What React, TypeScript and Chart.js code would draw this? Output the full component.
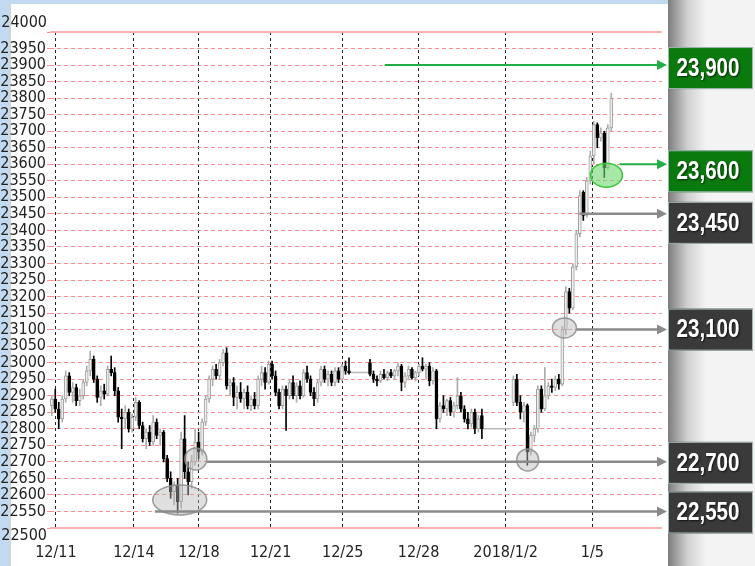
import { useEffect, useRef } from 'react';
import { Chart, registerables } from 'chart.js';
Chart.register(...registerables);

// ---- data (candles, one per slot) ----
const opens = [
  22870, 22890, 22860, 22830, 22890, 22960, 22910, 22925, 22885, 22900,
  22940, 22975, 23010, 22950, 22895, 22915, 22905, 22980, 22970, 22915,
  22835, 22830, 22850, 22800, 22835, 22880, 22810, 22770, 22790, 22760,
  22820, 22780, 22790, 22710, 22650, 22610, 22630, 22580, 22770, 22670,
  22640, 22700, 22760, 22730, 22820, 22890, 22950, 22980, 22960, 23000,
  23030, 22930, 22940, 22895, 22910, 22890, 22910, 22870, 22890, 22870,
  22950, 22970, 22940, 22995, 22960, 22910, 22870, 22920, 22900, 22940,
  22900, 22930, 22900, 22970, 22950, 22910, 22890, 22940, 22980, 22950,
  22965, 22940, 22975, 22950, 22990, 22975, 22970, 22970, 22970, 22970,
  22970, 23000, 22965, 22950, 22945, 22965, 22955, 22970, 22960, 22975,
  22990, 22940, 22960, 22980, 22955, 22970, 22990, 22980, 22990, 22945,
  22975, 22830, 22870, 22860, 22885, 22850, 22870, 22900, 22860, 22830,
  22815, 22850, 22800, 22840, 22800, 22800, 22800, 22800, 22800, 22800,
  22800, 22800, 22880, 22950, 22880, 22850, 22870, 22730, 22780, 22800,
  22920, 22860, 22900, 22930, 22925, 22950, 22935, 23100, 23215, 23165,
  23290, 23390, 23515, 23445, 23550, 23625, 23720, 23680, 23695, 23590,
  23710,
];
const highs = [
  22900, 22920, 22880, 22900, 22975, 22970, 22940, 22935, 22920, 22950,
  22990, 23035, 23020, 22960, 22930, 22935, 22990, 23020, 22985, 22925,
  22860, 22870, 22860, 22845, 22895, 22885, 22820, 22800, 22810, 22840,
  22830, 22800, 22795, 22720, 22670, 22640, 22650, 22790, 22840, 22700,
  22720, 22800, 22790, 22830, 22900, 22960, 22990, 22995, 23010, 23040,
  23045, 22950, 22955, 22930, 22940, 22920, 22930, 22900, 22910, 22960,
  22990, 22985, 23005, 23005, 22975, 22920, 22930, 22930, 22950, 22960,
  22940, 22945, 22980, 22990, 22960, 22925, 22950, 22990, 22990, 22975,
  22975, 22985, 22985, 22995, 23005, 23015, 22970, 22970, 22970, 22970,
  22970, 23010, 22975, 22960, 22975, 22980, 22975, 22980, 22980, 23000,
  22995, 22970, 22990, 22985, 22975, 22995, 23015, 22995, 23000, 22985,
  22980, 22880, 22900, 22890, 22895, 22880, 22955, 22910, 22870, 22850,
  22860, 22860, 22840, 22860, 22800, 22800, 22800, 22800, 22800, 22800,
  22800, 22800, 22960, 22965, 22900, 22880, 22875, 22790, 22810, 22930,
  22930, 22985, 22940, 22950, 22960, 22965, 23110, 23230, 23225, 23300,
  23400, 23520, 23520, 23560, 23640, 23730, 23725, 23710, 23700, 23720,
  23815,
];
const lows = [
  22840, 22850, 22800, 22820, 22880, 22900, 22880, 22870, 22870, 22890,
  22930, 22960, 22940, 22880, 22870, 22890, 22900, 22960, 22900, 22820,
  22740, 22800, 22790, 22790, 22825, 22800, 22760, 22740, 22750, 22750,
  22770, 22750, 22700, 22640, 22590, 22570, 22545, 22560, 22650, 22600,
  22620, 22690, 22710, 22720, 22810, 22880, 22930, 22950, 22950, 22990,
  22920, 22900, 22870, 22860, 22880, 22860, 22860, 22855, 22860, 22860,
  22930, 22920, 22935, 22950, 22900, 22860, 22860, 22795, 22890, 22890,
  22880, 22890, 22895, 22940, 22900, 22870, 22880, 22930, 22940, 22930,
  22930, 22930, 22940, 22945, 22965, 22965, 22970, 22970, 22970, 22970,
  22970, 22960, 22940, 22930, 22940, 22950, 22945, 22955, 22950, 22960,
  22915, 22925, 22950, 22950, 22945, 22960, 22975, 22950, 22930, 22935,
  22800, 22820, 22850, 22840, 22840, 22835, 22860, 22850, 22820, 22800,
  22805, 22785, 22790, 22770, 22800, 22800, 22800, 22800, 22800, 22800,
  22800, 22800, 22870, 22870, 22830, 22820, 22690, 22720, 22760, 22790,
  22850, 22855, 22890, 22910, 22915, 22920, 22930, 23085, 23150, 23160,
  23280, 23380, 23430, 23440, 23540, 23600, 23650, 23670, 23560, 23585,
  23700,
];
const closes = [
  22890, 22860, 22830, 22890, 22960, 22910, 22925, 22885, 22900, 22940,
  22975, 23010, 22950, 22895, 22915, 22905, 22980, 22970, 22915, 22835,
  22830, 22850, 22800, 22835, 22880, 22810, 22770, 22790, 22760, 22820,
  22780, 22790, 22710, 22650, 22610, 22630, 22580, 22770, 22670, 22640,
  22700, 22760, 22730, 22820, 22890, 22950, 22980, 22960, 23000, 23030,
  22930, 22940, 22895, 22910, 22890, 22910, 22870, 22890, 22870, 22950,
  22970, 22940, 22995, 22960, 22910, 22870, 22920, 22900, 22940, 22900,
  22930, 22900, 22970, 22950, 22910, 22890, 22940, 22980, 22950, 22965,
  22940, 22975, 22950, 22990, 22975, 22970, 22970, 22970, 22970, 22970,
  22970, 22965, 22950, 22945, 22965, 22955, 22970, 22960, 22975, 22990,
  22940, 22960, 22980, 22955, 22970, 22990, 22980, 22990, 22945, 22975,
  22830, 22870, 22860, 22885, 22850, 22870, 22900, 22860, 22830, 22815,
  22850, 22800, 22830, 22800, 22800, 22800, 22800, 22800, 22800, 22800,
  22800, 22800, 22950, 22880, 22850, 22870, 22730, 22780, 22800, 22920,
  22860, 22900, 22930, 22925, 22950, 22935, 23100, 23215, 23165, 23290,
  23390, 23505, 23445, 23550, 23625, 23720, 23680, 23695, 23590, 23710,
  23800,
];

// ---- axes ----
const xTickPos = [1.7, 24, 42.6, 63.1, 83.7, 105.4, 130.3, 155.1];
const xTickLabels = ['12/11', '12/14', '12/18', '12/21', '12/25', '12/28', '2018/1/2', '1/5'];
const yTickValues = [
  22500, 22550, 22600, 22650, 22700, 22750, 22800, 22850, 22900, 22950,
  23000, 23050, 23100, 23150, 23200, 23250, 23300, 23350, 23400, 23450,
  23500, 23550, 23600, 23650, 23700, 23750, 23800, 23850, 23900, 23950,
  24000,
];

// ---- annotations ----
const levelValues = [23900, 23600, 23450, 23100, 22700, 22550];
const levelLabels = ['23,900', '23,600', '23,450', '23,100', '22,700', '22,550'];
const levelStartX = [95.7, 162.9, 151.4, 150.6, 44.9, 30];
const levelIsGreen = [true, true, false, false, false, false];
const boxShift = [3, 7, 9, 0, 1, 1];

const ellipseX = [159.1, 147.1, 41.7, 37.1, 136.6];
const ellipseY = [23567, 23105, 22709, 22585, 22706];
const ellipseRX = [16, 12, 11, 27, 11];
const ellipseRY = [12, 10, 11, 15, 11];
const ellipseGreen = [true, false, false, false, false];

const FONT_AXIS = "'Liberation Sans Narrow', 'DejaVu Sans Condensed', 'Liberation Sans', sans-serif";
const FONT_BOX = "'Liberation Sans', Arial, sans-serif";

export default function App() {
  const ref = useRef<HTMLCanvasElement | null>(null);

  useEffect(() => {
    document.body.style.margin = '0';
    const canvas = ref.current;
    if (!canvas) return;

    const n = closes.length;
    const isFlat = (i: number) => highs[i] === lows[i];
    const isUp = (i: number) => closes[i] >= opens[i];

    const wickData: any[] = [];
    const bodyData: any[] = [];
    const flatData: any[] = [];
    for (let i = 0; i < n; i++) {
      const xc = i + 0.5;
      if (isFlat(i)) {
        wickData.push({ x: xc, y: null });
        bodyData.push({ x: xc, y: null });
        flatData.push({ x: i, y: closes[i] });
        flatData.push({ x: i + 1, y: closes[i] });
      } else {
        wickData.push({ x: xc, y: [lows[i], highs[i]] });
        bodyData.push({ x: xc, y: [Math.min(opens[i], closes[i]), Math.max(opens[i], closes[i])] });
        flatData.push({ x: xc, y: null });
      }
    }
    const wickColors = Array.from({ length: n }, (_, i) => (isUp(i) ? '#acacac' : '#000000'));
    const bodyFill = Array.from({ length: n }, (_, i) => (isUp(i) ? '#eeeeee' : '#000000'));
    const bodyBorder = Array.from({ length: n }, (_, i) => (isUp(i) ? '#a0a0a0' : '#000000'));

    const decor = {
      id: 'decor',
      beforeDraw(chart: any) {
        const { ctx, width, height } = chart;
        ctx.save();
        ctx.fillStyle = '#ffffff';
        ctx.fillRect(0, 0, width, height);
        ctx.fillStyle = '#c2daf1';
        ctx.fillRect(0, 0, 668, 4);
        ctx.fillRect(0, 0, 9, height);
        ctx.fillStyle = '#d4d4d4';
        ctx.fillRect(9, 4, 2, height - 4);
        const g = ctx.createLinearGradient(668, 0, 706, 0);
        g.addColorStop(0, '#7c7c7c');
        g.addColorStop(0.5, '#cfcfcf');
        g.addColorStop(1, '#f3f3f3');
        ctx.fillStyle = g;
        ctx.fillRect(668, 0, 38, height);
        ctx.fillStyle = '#f3f3f3';
        ctx.fillRect(706, 0, width - 706, height);
        ctx.restore();
      },
      beforeDatasetsDraw(chart: any) {
        const { ctx, chartArea } = chart;
        const y = chart.scales.y;
        ctx.save();
        ctx.strokeStyle = '#f8b0b0';
        ctx.lineWidth = 2;
        [24000, 22500].forEach((v) => {
          const py = Math.round(y.getPixelForValue(v));
          ctx.beginPath();
          ctx.moveTo(chartArea.left, py);
          ctx.lineTo(chartArea.right, py);
          ctx.stroke();
        });
        ctx.restore();
      },
      afterDatasetsDraw(chart: any) {
        const { ctx, chartArea } = chart;
        const x = chart.scales.x;
        const y = chart.scales.y;
        ctx.save();
        ellipseX.forEach((ex, k) => {
          const cx = x.getPixelForValue(ex);
          const cy = y.getPixelForValue(ellipseY[k]);
          ctx.beginPath();
          ctx.ellipse(cx, cy, ellipseRX[k], ellipseRY[k], 0, 0, Math.PI * 2);
          if (ellipseGreen[k]) {
            ctx.fillStyle = 'rgba(110, 215, 110, 0.6)';
            ctx.strokeStyle = '#3cc83c';
          } else {
            ctx.fillStyle = 'rgba(185, 185, 185, 0.45)';
            ctx.strokeStyle = 'rgba(140, 140, 140, 0.85)';
          }
          ctx.lineWidth = 1.5;
          ctx.fill();
          ctx.stroke();
        });
        const tip = chartArea.right + 5;
        levelValues.forEach((v, k) => {
          const py = y.getPixelForValue(v);
          const x0 = x.getPixelForValue(levelStartX[k]);
          const col = levelIsGreen[k] ? '#22ad46' : '#8a8a8a';
          ctx.strokeStyle = col;
          ctx.fillStyle = col;
          ctx.lineWidth = levelIsGreen[k] ? 2 : 2.5;
          ctx.beginPath();
          ctx.moveTo(x0, py);
          ctx.lineTo(tip - 8, py);
          ctx.stroke();
          ctx.beginPath();
          ctx.moveTo(tip - 10, py - 5);
          ctx.lineTo(tip, py);
          ctx.lineTo(tip - 10, py + 5);
          ctx.closePath();
          ctx.fill();
        });
        ctx.restore();
      },
      afterDraw(chart: any) {
        const { ctx } = chart;
        const y = chart.scales.y;
        ctx.save();
        ctx.fillStyle = '#222';
        ctx.font = `16px ${FONT_AXIS}`;
        ctx.textAlign = 'right';
        ctx.textBaseline = 'middle';
        ctx.fillText('24000', 47, y.getPixelForValue(24000) - 9);
        ctx.fillText('22500', 47, y.getPixelForValue(22500) + 8);
        const bx = 668;
        const bw = 85;
        const bh = 42;
        levelValues.forEach((v, k) => {
          const cy = y.getPixelForValue(v) + boxShift[k];
          ctx.fillStyle = levelIsGreen[k] ? '#0b7a0e' : '#3a3a3a';
          ctx.fillRect(bx, cy - bh / 2, bw, bh);
          ctx.strokeStyle = '#a3b6b6';
          ctx.lineWidth = 1;
          ctx.strokeRect(bx + 0.5, cy - bh / 2 + 0.5, bw - 1, bh - 1);
          ctx.save();
          ctx.font = `bold 25px ${FONT_BOX}`;
          const w = ctx.measureText(levelLabels[k]).width;
          const sx = Math.min(1, 63 / w);
          ctx.translate(bx + 40, cy + 1);
          ctx.scale(sx, 1);
          ctx.shadowColor = 'rgba(0,0,0,0.7)';
          ctx.shadowBlur = 2;
          ctx.shadowOffsetX = 1;
          ctx.shadowOffsetY = 1;
          ctx.fillStyle = '#ffffff';
          ctx.textAlign = 'center';
          ctx.textBaseline = 'middle';
          ctx.fillText(levelLabels[k], 0, 0);
          ctx.restore();
        });
        ctx.restore();
      },
    };

    const chart = new Chart(canvas, {
      type: 'bar',
      data: {
        datasets: [
          {
            type: 'line',
            data: flatData,
            borderColor: '#b8b8b8',
            borderWidth: 1.5,
            pointRadius: 0,
            spanGaps: false,
            order: 3,
          } as any,
          {
            data: wickData,
            backgroundColor: wickColors,
            borderWidth: 0,
            barThickness: 1,
            grouped: false,
            order: 2,
          } as any,
          {
            data: bodyData,
            backgroundColor: bodyFill,
            borderColor: bodyBorder,
            borderWidth: 1,
            borderSkipped: false,
            barThickness: 3,
            minBarLength: 1,
            grouped: false,
            order: 1,
          } as any,
        ],
      },
      options: {
        responsive: false,
        animation: false,
        layout: { padding: { left: 0, right: 93, top: 32, bottom: 0 } },
        plugins: { legend: { display: false }, tooltip: { enabled: false } },
        events: [],
        scales: {
          x: {
            type: 'linear',
            min: 0,
            max: 175,
            offset: false,
            afterBuildTicks: (s: any) => {
              s.ticks = xTickPos.map((v) => ({ value: v }));
            },
            afterFit: (s: any) => {
              s.height = 38;
            },
            grid: { color: '#222222', lineWidth: 1, drawTicks: false, offset: false },
            border: { display: false, dash: [3, 3] },
            ticks: {
              autoSkip: false,
              maxRotation: 0,
              padding: 15,
              color: '#222',
              font: { family: FONT_AXIS, size: 16 },
              callback: (_v: any, i: number) => xTickLabels[i],
            },
          },
          y: {
            type: 'linear',
            min: 22500,
            max: 24000,
            afterBuildTicks: (s: any) => {
              s.ticks = yTickValues.map((v) => ({ value: v }));
            },
            afterFit: (s: any) => {
              s.width = 50;
            },
            grid: { color: '#ff8c8c', lineWidth: 1, tickLength: 3 },
            border: { display: false, dash: [4, 3] },
            ticks: {
              autoSkip: false,
              padding: 1,
              color: '#222',
              font: { family: FONT_AXIS, size: 16 },
              callback: (v: any) => (v === 24000 || v === 22500 ? '' : String(v)),
            },
          },
        },
      } as any,
      plugins: [decor],
    });

    return () => chart.destroy();
  }, []);

  return <canvas ref={ref} width={755} height={566} style={{ display: 'block' }} />;
}
